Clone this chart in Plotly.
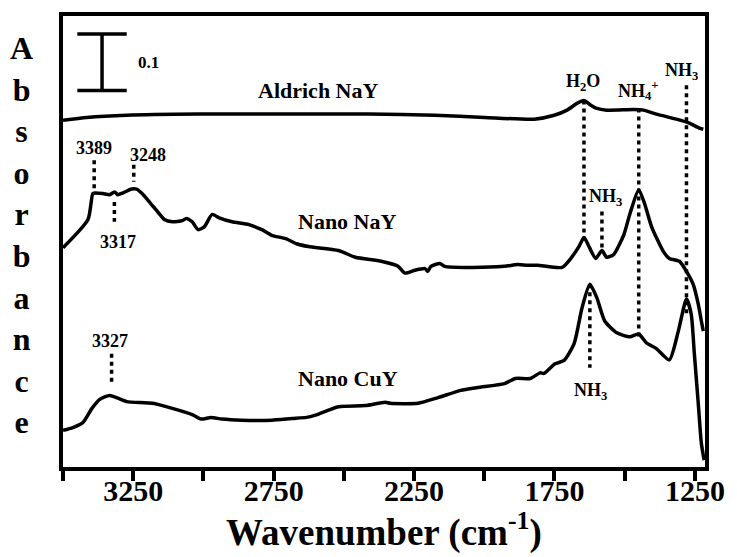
import plotly.graph_objects as go

# ---- spectra (wavenumber in cm-1, absorbance) ----
aldrich_wn = [3500, 3415, 3273, 3015, 2544, 2413, 2176, 1999, 1822, 1751, 1705, 1670,
              1645, 1624, 1599, 1564, 1468, 1433, 1387, 1316, 1270, 1234, 1220]
aldrich_abs = [0.615, 0.620, 0.624, 0.626, 0.626, 0.626, 0.624, 0.620, 0.617, 0.624, 0.633, 0.645,
               0.650, 0.643, 0.636, 0.633, 0.634, 0.633, 0.626, 0.617, 0.610, 0.601, 0.599]

nanonay_wn = [3500, 3411, 3394, 3387, 3358, 3334, 3316, 3305, 3288, 3256, 3238, 3220, 3192,
              3157, 3139, 3111, 3075, 3061, 3040, 3019, 2997, 2969, 2944, 2898, 2838, 2792,
              2757, 2707, 2668, 2626, 2519, 2459, 2367, 2307, 2282, 2247, 2211, 2201, 2190,
              2158, 2141, 2049, 1928, 1882, 1847, 1811, 1723, 1695, 1663, 1645, 1627, 1603,
              1581, 1564, 1539, 1503, 1482, 1450, 1429, 1404, 1362, 1341, 1305, 1280, 1256,
              1238, 1227, 1220]
nanonay_abs = [0.389, 0.439, 0.485, 0.486, 0.485, 0.483, 0.488, 0.483, 0.486, 0.493, 0.493,
               0.486, 0.470, 0.449, 0.439, 0.435, 0.437, 0.441, 0.435, 0.421, 0.426, 0.448,
               0.442, 0.435, 0.430, 0.421, 0.411, 0.405, 0.396, 0.391, 0.384, 0.372, 0.365,
               0.356, 0.344, 0.349, 0.352, 0.347, 0.356, 0.361, 0.356, 0.354, 0.356, 0.359,
               0.358, 0.358, 0.354, 0.368, 0.391, 0.407, 0.391, 0.370, 0.384, 0.372, 0.377,
               0.412, 0.448, 0.492, 0.467, 0.426, 0.382, 0.370, 0.365, 0.347, 0.324, 0.289,
               0.259, 0.241]

nanocuy_wn = [3500, 3465, 3429, 3397, 3369, 3334, 3305, 3273, 3181, 3111, 3040, 3008, 2973,
              2934, 2863, 2757, 2686, 2633, 2601, 2519, 2424, 2353, 2335, 2236, 2165, 2084,
              2024, 1928, 1889, 1836, 1801, 1787, 1748, 1716, 1680, 1652, 1624, 1599, 1571,
              1528, 1482, 1450, 1422, 1387, 1341, 1309, 1280, 1263, 1252, 1238, 1227, 1217]
nanocuy_abs = [0.065, 0.070, 0.079, 0.104, 0.120, 0.127, 0.122, 0.116, 0.113, 0.104, 0.093,
               0.085, 0.088, 0.085, 0.083, 0.083, 0.086, 0.088, 0.092, 0.107, 0.109, 0.115,
               0.113, 0.113, 0.123, 0.136, 0.141, 0.148, 0.157, 0.157, 0.167, 0.166, 0.183,
               0.189, 0.219, 0.282, 0.324, 0.300, 0.259, 0.238, 0.231, 0.236, 0.220, 0.210,
               0.190, 0.241, 0.298, 0.271, 0.201, 0.113, 0.042, 0.012]

# ---- band markers: position, dotted span, label ----
band_wn = [1645, 1450, 1280, 1581, 1624, 3389, 3248, 3317, 3327]
band_top = [0.650, 0.636, 0.677, 0.453, 0.324, 0.544, 0.536, 0.470, 0.201]
band_bottom = [0.407, 0.229, 0.270, 0.382, 0.176, 0.492, 0.506, 0.435, 0.148]

band_labels = ["H<sub>2</sub>O", "NH<sub>4</sub><sup>+</sup>", "NH<sub>3</sub>", "NH<sub>3</sub>",
               "NH<sub>3</sub>", "3389", "3248", "3317", "3327"]
band_label_wn = [1648, 1454, 1298, 1567, 1620, 3390, 3196, 3305, 3334]
band_label_abs = [0.682, 0.668, 0.701, 0.478, 0.134, 0.566, 0.553, 0.400, 0.224]

# ---- sample names ----
sample_names = ["Aldrich NaY", "Nano NaY", "Nano CuY"]
sample_label_wn = [2590, 2488, 2484]
sample_label_abs = [0.668, 0.435, 0.157]

# ---- axis ticks ----
tick_vals = [3500, 3250, 3000, 2750, 2500, 2250, 2000, 1750, 1500, 1250]
tick_text = ["", "3250", "", "2750", "", "2250", "", "1750", "", "1250"]

# ---- absorbance scale bar ----
scale_value = 0.1
scale_bar_wn = 3361
scale_bar_half_w = 88
scale_bar_base = 0.668

FONT = "Liberation Serif, Times New Roman, serif"
INK = "black"

fig = go.Figure()

for wn, ab in [(aldrich_wn, aldrich_abs), (nanonay_wn, nanonay_abs), (nanocuy_wn, nanocuy_abs)]:
    fig.add_trace(go.Scatter(x=wn, y=ab, mode="lines",
                             line=dict(color=INK, width=3.5, shape="spline", smoothing=0.6),
                             showlegend=False, hoverinfo="skip"))

# dotted band markers
for wn, top, bot in zip(band_wn, band_top, band_bottom):
    fig.add_trace(go.Scatter(x=[wn, wn], y=[top, bot], mode="lines",
                             line=dict(color=INK, width=3.5, dash="4px,4px"),
                             showlegend=False, hoverinfo="skip"))

# scale bar (I-shape)
sb_top = scale_bar_base + scale_value
fig.add_trace(go.Scatter(
    x=[scale_bar_wn - scale_bar_half_w, scale_bar_wn + scale_bar_half_w, None,
       scale_bar_wn, scale_bar_wn, None,
       scale_bar_wn - scale_bar_half_w, scale_bar_wn + scale_bar_half_w],
    y=[sb_top, sb_top, None, sb_top, scale_bar_base, None, scale_bar_base, scale_bar_base],
    mode="lines", line=dict(color=INK, width=3.5),
    showlegend=False, hoverinfo="skip"))

annotations = []
annotations.append(dict(x=scale_bar_wn - 165, y=scale_bar_base + scale_value * 0.5,
                        text="<b>%.1f</b>" % scale_value, showarrow=False,
                        font=dict(family=FONT, size=17, color=INK)))

for txt, x, y in zip(band_labels, band_label_wn, band_label_abs):
    annotations.append(dict(x=x, y=y, text="<b>%s</b>" % txt, showarrow=False,
                            font=dict(family=FONT, size=18, color=INK)))

for txt, x, y in zip(sample_names, sample_label_wn, sample_label_abs):
    annotations.append(dict(x=x, y=y, text="<b>%s</b>" % txt, showarrow=False,
                            font=dict(family=FONT, size=22, color=INK)))

# stacked y-axis title
annotations.append(dict(xref="paper", yref="paper", x=-0.064, y=0.515,
                        xanchor="center", yanchor="middle",
                        text="<b>" + "<br>".join(list("Absorbance")) + "</b>",
                        showarrow=False, align="center",
                        font=dict(family=FONT, size=32, color=INK)))

# x-axis title
annotations.append(dict(xref="paper", yref="paper", x=0.5, y=-0.14,
                        xanchor="center", yanchor="middle",
                        text="<b>Wavenumber (cm<sup>-1</sup>)</b>",
                        showarrow=False,
                        font=dict(family=FONT, size=37, color=INK)))

fig.update_layout(
    width=737, height=557,
    margin=dict(l=63, r=29, t=13, b=90),
    paper_bgcolor="white", plot_bgcolor="white",
    font=dict(family=FONT, color=INK),
    annotations=annotations,
    xaxis=dict(range=[3500, 1214], tickvals=tick_vals,
               ticktext=["<b>%s</b>" % t if t else "" for t in tick_text],
               ticks="outside", ticklen=10, tickwidth=3.5, tickcolor=INK,
               ticklabelstandoff=-16,
               tickfont=dict(family=FONT, size=30, color=INK),
               showline=True, linewidth=4, linecolor=INK, mirror=True,
               showgrid=False, zeroline=False),
    yaxis=dict(range=[0, 0.8], showticklabels=False, ticks="",
               showline=True, linewidth=4, linecolor=INK, mirror=True,
               showgrid=False, zeroline=False),
)

fig.write_html("out.html")
